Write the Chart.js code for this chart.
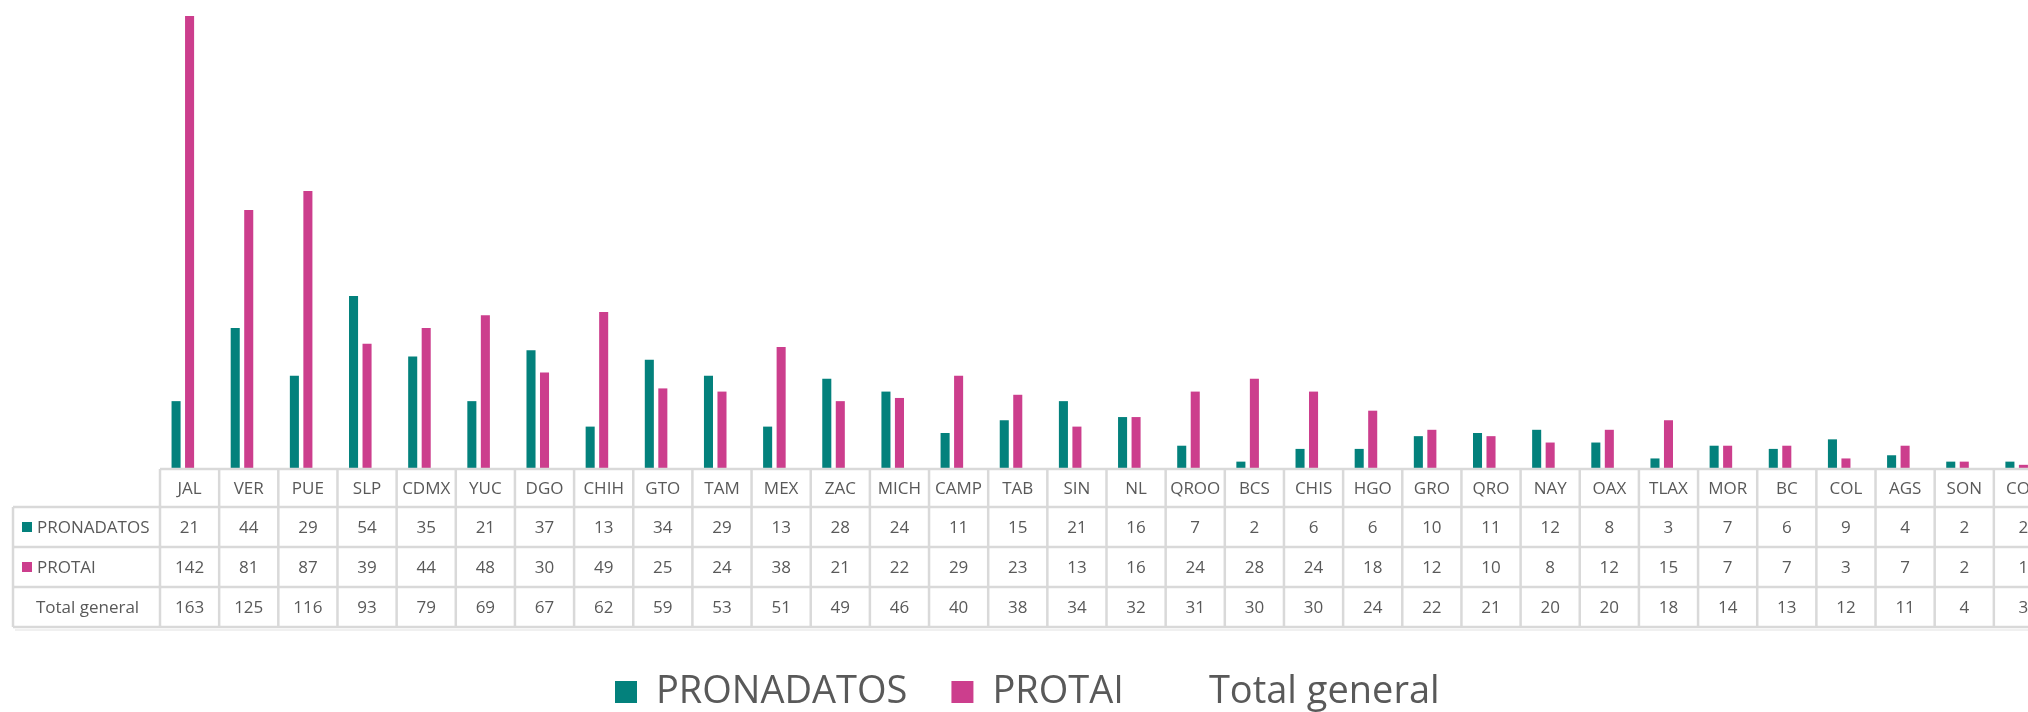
<!DOCTYPE html>
<html>
<head>
<meta charset="utf-8">
<script src="https://cdn.jsdelivr.net/npm/chart.js@4"></script>
<style>
  html, body { margin: 0; padding: 0; background: #ffffff; overflow: hidden; }
  #wrap { width: 2053px; height: 712px; }
</style>
</head>
<body>
<div id="wrap"><canvas id="chart" width="2053" height="712"></canvas></div>
<script>
const categories = ['JAL', 'VER', 'PUE', 'SLP', 'CDMX', 'YUC', 'DGO', 'CHIH', 'GTO', 'TAM', 'MEX', 'ZAC',
  'MICH', 'CAMP', 'TAB', 'SIN', 'NL', 'QROO', 'BCS', 'CHIS', 'HGO', 'GRO', 'QRO', 'NAY', 'OAX', 'TLAX',
  'MOR', 'BC', 'COL', 'AGS', 'SON', 'COA'];
const pronadatos = [21, 44, 29, 54, 35, 21, 37, 13, 34, 29, 13, 28, 24, 11, 15, 21, 16, 7, 2, 6, 6, 10, 11, 12, 8, 3, 7, 6, 9, 4, 2, 2];
const protai = [142, 81, 87, 39, 44, 48, 30, 49, 25, 24, 38, 21, 22, 29, 23, 13, 16, 24, 28, 24, 18, 12, 10, 8, 12, 15, 7, 7, 3, 7, 2, 1];
const totalGeneral = [163, 125, 116, 93, 79, 69, 67, 62, 59, 53, 51, 49, 46, 40, 38, 34, 32, 31, 30, 30, 24, 22, 21, 20, 20, 18, 14, 13, 12, 11, 4, 3];

const TEAL = '#03817c';
const PINK = '#cc3e8d';
const TEXT = '#595959';
const GRID = '#d9d9d9';
const FONT = '"Open Sans", "Noto Sans", sans-serif';

// data table drawn under the plot, using the x scale for column positions
const dataTable = {
  id: 'dataTable',
  afterLayout(chart) {
    // nudge the legend to where Excel put it
    const lg = chart.legend;
    const pad = lg.options.labels.padding;
    const start = (lg.left + pad + lg.right - lg.lineWidths[0]) / 2;
    const dx = 615 - start;
    lg.left += dx; lg.right += dx;
    lg.top += 9; lg.bottom += 9;
  },
  afterDraw(chart) {
    const ctx = chart.ctx;
    const xs = chart.scales.x;
    const n = categories.length;
    const colW = xs.width / n;
    const left = xs.left;
    const right = xs.right;
    const top = chart.chartArea.bottom + 1;
    const headH = 38;
    const rowH = 40;
    const tableLeft = 13;
    const rows = [
      { label: 'PRONADATOS', color: TEAL, values: pronadatos },
      { label: 'PROTAI', color: PINK, values: protai },
      { label: 'Total general', color: null, values: totalGeneral }
    ];
    const bottom = top + headH + rowH * rows.length;

    ctx.save();
    ctx.strokeStyle = GRID;
    ctx.lineWidth = 2.5;
    ctx.beginPath();
    // header row top line
    ctx.moveTo(left, top); ctx.lineTo(right + 5, top);
    // row lines
    for (let r = 0; r <= rows.length; r++) {
      const y = top + headH + r * rowH;
      ctx.moveTo(tableLeft, y); ctx.lineTo(right + 5, y);
    }
    // column lines
    for (let i = 0; i <= n; i++) {
      const x = left + i * colW;
      ctx.moveTo(x, top); ctx.lineTo(x, bottom);
    }
    ctx.moveTo(tableLeft, top + headH); ctx.lineTo(tableLeft, bottom);
    ctx.stroke();
    // faint shadow under the table
    ctx.strokeStyle = 'rgba(0,0,0,0.06)';
    ctx.lineWidth = 2;
    ctx.beginPath();
    ctx.moveTo(tableLeft + 2, bottom + 3); ctx.lineTo(right + 5, bottom + 3);
    ctx.stroke();

    ctx.fillStyle = TEXT;
    ctx.font = '17px ' + FONT;
    ctx.textBaseline = 'middle';
    ctx.textAlign = 'center';
    categories.forEach((c, i) => {
      ctx.fillText(c, left + (i + 0.5) * colW, top + headH / 2 + 1);
    });
    rows.forEach((row, r) => {
      const yc = top + headH + r * rowH + rowH / 2 + 1;
      row.values.forEach((v, i) => {
        ctx.fillStyle = TEXT;
        ctx.textAlign = 'center';
        ctx.fillText(String(v), left + (i + 0.5) * colW, yc);
      });
      if (row.color) {
        ctx.fillStyle = row.color;
        ctx.fillRect(tableLeft + 9, yc - 6, 10, 10);
        ctx.fillStyle = TEXT;
        ctx.textAlign = 'left';
        ctx.fillText(row.label, tableLeft + 24, yc);
      } else {
        ctx.fillStyle = TEXT;
        ctx.textAlign = 'center';
        ctx.fillText(row.label, (tableLeft + left) / 2 + 1, yc);
      }
    });
    ctx.restore();
  }
};

const config = {
  type: 'bar',
  data: {
    labels: categories,
    datasets: [
      { label: 'PRONADATOS', data: pronadatos, backgroundColor: TEAL, borderWidth: 0 },
      { label: 'PROTAI', data: protai, backgroundColor: PINK, borderWidth: 0 },
      { label: 'Total general', data: totalGeneral, backgroundColor: 'rgba(0,0,0,0)', borderWidth: 0 }
    ]
  },
  options: {
    responsive: false,
    animation: false,
    categoryPercentage: 0.685,
    barPercentage: 0.67,
    layout: { padding: 0 },
    plugins: {
      tooltip: { enabled: false },
      legend: {
        position: 'bottom',
        labels: {
          boxWidth: 22,
          boxHeight: 22,
          padding: 44,
          color: TEXT,
          font: { family: FONT, size: 38 }
        }
      }
    },
    scales: {
      x: {
        grid: { display: false },
        border: { display: false },
        ticks: { display: false },
        afterFit(axis) { axis.height = 152; }
      },
      y: {
        min: 0,
        max: 147,
        grid: { display: false },
        border: { display: false },
        ticks: { display: false },
        afterFit(axis) { axis.width = 160; }
      }
    }
  },
  plugins: [dataTable]
};

new Chart(document.getElementById('chart'), config);
</script>
</body>
</html>
